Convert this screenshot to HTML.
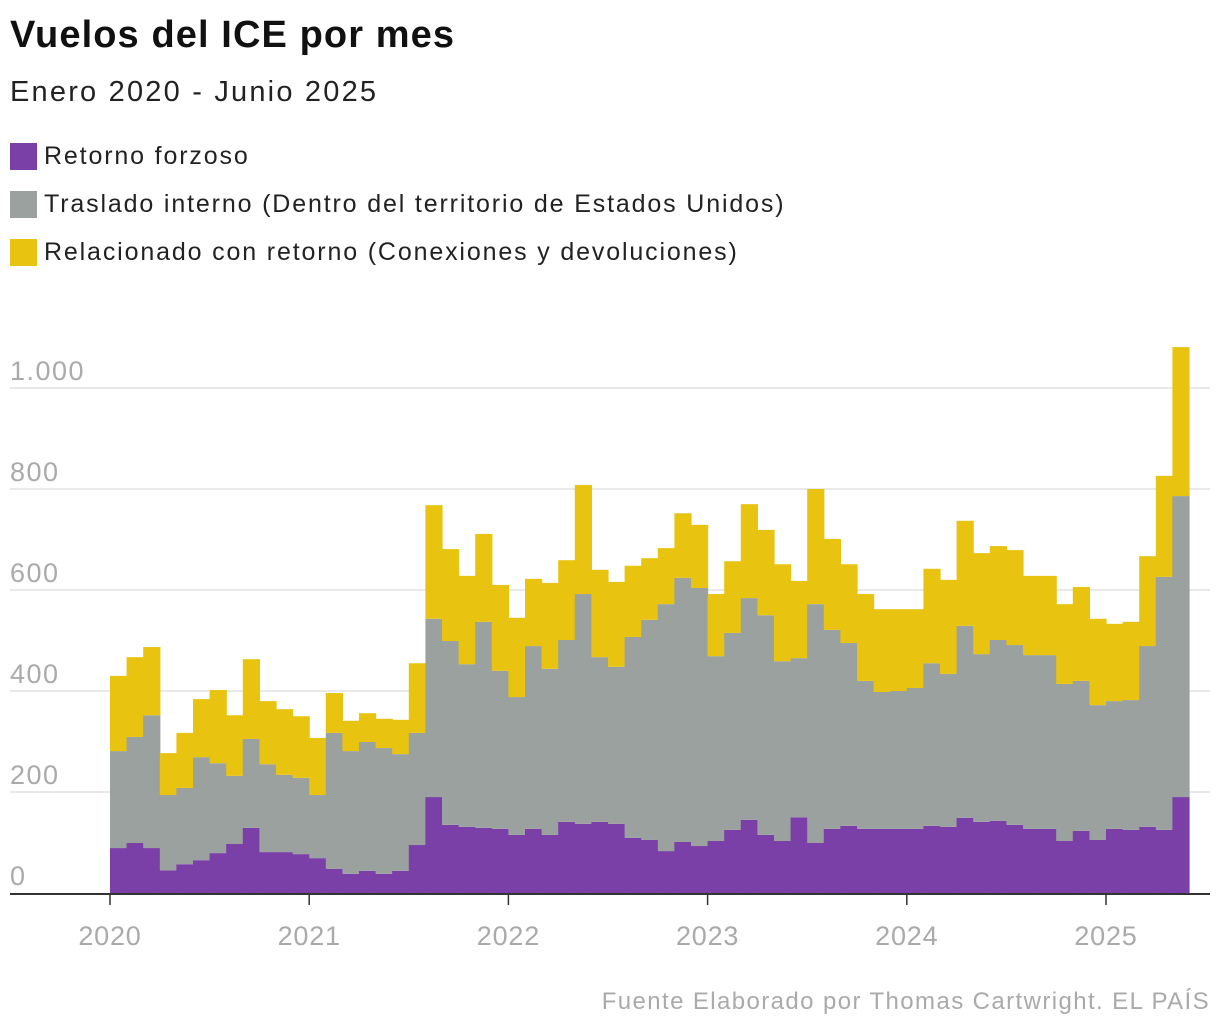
<!DOCTYPE html>
<html><head><meta charset="utf-8">
<style>
body{margin:0;background:#fff;width:1220px;height:1030px;overflow:hidden;font-family:"Liberation Sans",sans-serif;}
.t{position:absolute;left:10px;top:14px;font-size:38px;font-weight:bold;color:#111;letter-spacing:1.1px}
.s{position:absolute;left:10px;top:76px;font-size:29px;color:#222;letter-spacing:2.2px}
.lg{position:absolute;left:10px;font-size:25px;color:#222;display:flex;align-items:center;letter-spacing:1.85px}
.sw{width:27px;height:27px;margin-right:7px}
svg{position:absolute;left:0;top:0}
</style></head><body>
<div class="t">Vuelos del ICE por mes</div>
<div class="s">Enero 2020 - Junio 2025</div>
<div class="lg" style="top:142px"><div class="sw" style="background:#7b3fa8"></div>Retorno forzoso</div>
<div class="lg" style="top:190px"><div class="sw" style="background:#9aa19f"></div>Traslado interno (Dentro del territorio de Estados Unidos)</div>
<div class="lg" style="top:238px"><div class="sw" style="background:#e8c411"></div>Relacionado con retorno (Conexiones y devoluciones)</div>
<svg id="c" width="1220" height="1030"></svg>
<script>
const retorno=[89,99,89,45,57,65,79,97,129,81,81,77,69,48,38,44,38,44,95,190,135,131,129,127,115,127,115,141,137,141,137,109,105,83,101,93,103,125,145,115,103,150,99,127,133,127,127,127,127,133,131,149,141,143,135,127,127,103,123,105,127,125,131,125,190];
const interno=[192,210,263,149,151,204,178,135,176,174,153,151,125,269,243,255,249,231,222,353,364,322,408,313,273,362,329,360,455,326,311,398,436,489,523,511,366,390,439,435,356,315,473,394,362,293,271,273,279,322,303,380,332,358,356,344,344,311,297,267,253,257,358,501,596];
const relacionado=[149,158,135,83,109,115,145,120,158,125,130,122,113,79,60,57,58,68,138,225,182,175,174,170,157,133,170,158,216,173,168,141,122,111,128,125,123,142,186,169,192,153,228,180,156,172,164,162,156,187,186,208,200,186,188,157,157,158,186,171,153,155,178,200,295];
const yTicks=[0,200,400,600,800,1000];
const yLabels=["0","200","400","600","800","1.000"];
const years=["2020","2021","2022","2023","2024","2025"];
const NS="http://www.w3.org/2000/svg";
const svg=document.getElementById('c');
const x0=110,mw=16.6,y0=893,k=0.505;
const X=m=>x0+m*mw, Y=v=>y0-v*k;
function el(t,a){const e=document.createElementNS(NS,t);for(const q in a)e.setAttribute(q,a[q]);svg.appendChild(e);return e;}
yTicks.forEach((v,i)=>{
 if(v>0){const g=el('line',{x1:10,x2:1210,y1:Y(v),y2:Y(v),stroke:'#dcdcdc','stroke-width':1.2});
 
 }
 const t=el('text',{x:10,y:Y(v)-8,'font-size':27,fill:'#aaa','font-family':'Liberation Sans','letter-spacing':1.5});t.textContent=yLabels[i];
 
 
});
const series=[[retorno,'#7b3fa8','bar-retorno'],[interno,'#9aa19f','bar-interno'],[relacionado,'#e8c411','bar-relacionado']];
for(let m=0;m<retorno.length;m++){
 let base=0;
 series.forEach(([arr,col,nm])=>{
  const v=arr[m];
  const r=el('rect',{x:X(m),y:Y(base+v),width:mw+0.6,height:v*k,fill:col});
  
  
  base+=v;
 });
}
const ax=el('line',{x1:10,x2:1210,y1:894,y2:894,stroke:'#333','stroke-width':2});


years.forEach((yr,i)=>{
 const x=X(i*12);
 const tk=el('line',{x1:x,x2:x,y1:894,y2:905,stroke:'#333','stroke-width':1.5});
 
 
 const t=el('text',{x:x,y:945,'font-size':27,fill:'#aaa','text-anchor':'middle','font-family':'Liberation Sans','letter-spacing':0.8});t.textContent=yr;
 
 
});
const src=el('text',{x:1210,y:1009,'font-size':24,fill:'#aaa','text-anchor':'end','font-family':'Liberation Sans','letter-spacing':1.4});
src.textContent='Fuente Elaborado por Thomas Cartwright. EL PAÍS';


</script>
</body></html>
